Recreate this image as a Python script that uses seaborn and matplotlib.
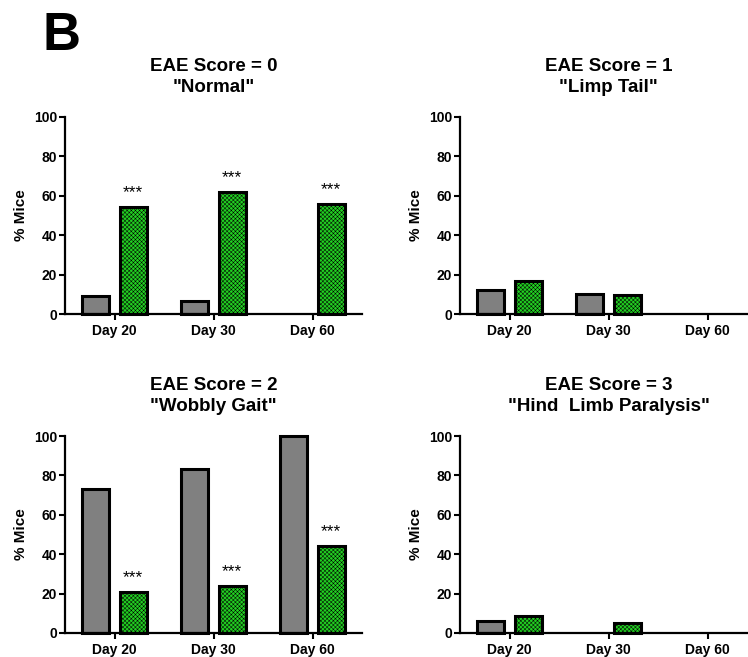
import matplotlib
matplotlib.use("Agg")
import matplotlib.pyplot as plt
import seaborn as sns
import pandas as pd
import numpy as np

sns.set_style("white")
plt.rcParams['font.family'] = ['Liberation Sans', 'DejaVu Sans']
plt.rcParams['hatch.linewidth'] = 0.35
plt.rcParams['hatch.color'] = 'black'
for k in ['text.color', 'axes.labelcolor', 'xtick.color', 'ytick.color']:
    plt.rcParams[k] = 'black'

days = ["Day 20", "Day 30", "Day 60"]
groups = ["Control", "Treated"]
titles = ["EAE Score = 0\n\"Normal\"", "EAE Score = 1\n\"Limp Tail\"",
          "EAE Score = 2\n\"Wobbly Gait\"", "EAE Score = 3\n\"Hind  Limb Paralysis\""]

control_s0 = [9, 6.7, 0]
treated_s0 = [54.5, 62, 56]
control_s1 = [12.2, 10.2, 0]
treated_s1 = [16.8, 9.6, 0]
control_s2 = [73, 83.5, 100]
treated_s2 = [21, 24, 44]
control_s3 = [6, 0, 0]
treated_s3 = [8.5, 5, 0]

sig_s0 = ["***", "***", "***"]
sig_s1 = ["", "", ""]
sig_s2 = ["***", "***", "***"]
sig_s3 = ["", "", ""]

panels = [(control_s0, treated_s0, sig_s0),
          (control_s1, treated_s1, sig_s1),
          (control_s2, treated_s2, sig_s2),
          (control_s3, treated_s3, sig_s3)]

W, H = 748, 657
fig = plt.figure(figsize=(W / 100, H / 100), dpi=100)

gray = "#808080"
green = "#22d022"
pal = {"Control": gray, "Treated": green}

geo = [(65, 314), (460, 314), (65, 633), (460, 633)]
ax_w_px = 297
ax_h_px = 197

for i, ((ctrl, trt, sig), (lx, by)) in enumerate(zip(panels, geo)):
    ax = fig.add_axes([lx / W, (H - by) / H, ax_w_px / W, ax_h_px / H])
    df = pd.DataFrame({
        "day": days * 2,
        "group": ["Control"] * 3 + ["Treated"] * 3,
        "pct": list(ctrl) + list(trt),
    })
    sns.barplot(data=df, x="day", y="pct", hue="group", order=days,
                hue_order=groups, palette=pal, width=0.76, gap=0.29,
                edgecolor="black", linewidth=2.2, saturation=1,
                legend=False, ax=ax, errorbar=None)
    green_centers = []
    for p in ax.patches:
        p.set_clip_on(False)
        fc = matplotlib.colors.to_hex(p.get_facecolor())
        if fc.lower() == green.lower():
            p.set_hatch("xxxxxxxx")
            green_centers.append((p.get_x() + p.get_width() / 2, p.get_height()))
        if p.get_height() == 0:
            p.set_visible(False)
    green_centers.sort()
    for (cx, h), s in zip(green_centers, sig):
        if s:
            ax.text(cx, h + 3.5, s, ha="center", va="bottom", fontsize=12.5)

    ax.set_xlim(-0.5, 2.5)
    ax.set_ylim(0, 100)
    ax.set_yticks([0, 20, 40, 60, 80, 100])
    ax.set_xlabel("")
    ax.set_ylabel("% Mice", fontsize=11, fontweight="bold")
    ax.yaxis.set_label_coords(-37 / ax_w_px, 0.5)
    for lab in ax.get_xticklabels() + ax.get_yticklabels():
        lab.set_fontweight("bold")
        lab.set_fontsize(10)
    ax.tick_params(axis="y", direction="out", length=4, width=1.5, pad=1.5)
    ax.tick_params(axis="x", direction="out", length=4, width=1.5, pad=3)
    ax.tick_params(left=True, bottom=True)
    for side in ["top", "right"]:
        ax.spines[side].set_visible(False)
    for side in ["left", "bottom"]:
        ax.spines[side].set_color("black")
        ax.spines[side].set_linewidth(1.6)
    ax.set_title(titles[i], fontsize=13.5, fontweight="bold", pad=18,
                 linespacing=1.3)

fig.text(43 / W, 1 - 50 / H, "B", fontsize=38, fontweight="bold",
         ha="left", va="baseline")

fig.savefig("out.png", dpi=100)
